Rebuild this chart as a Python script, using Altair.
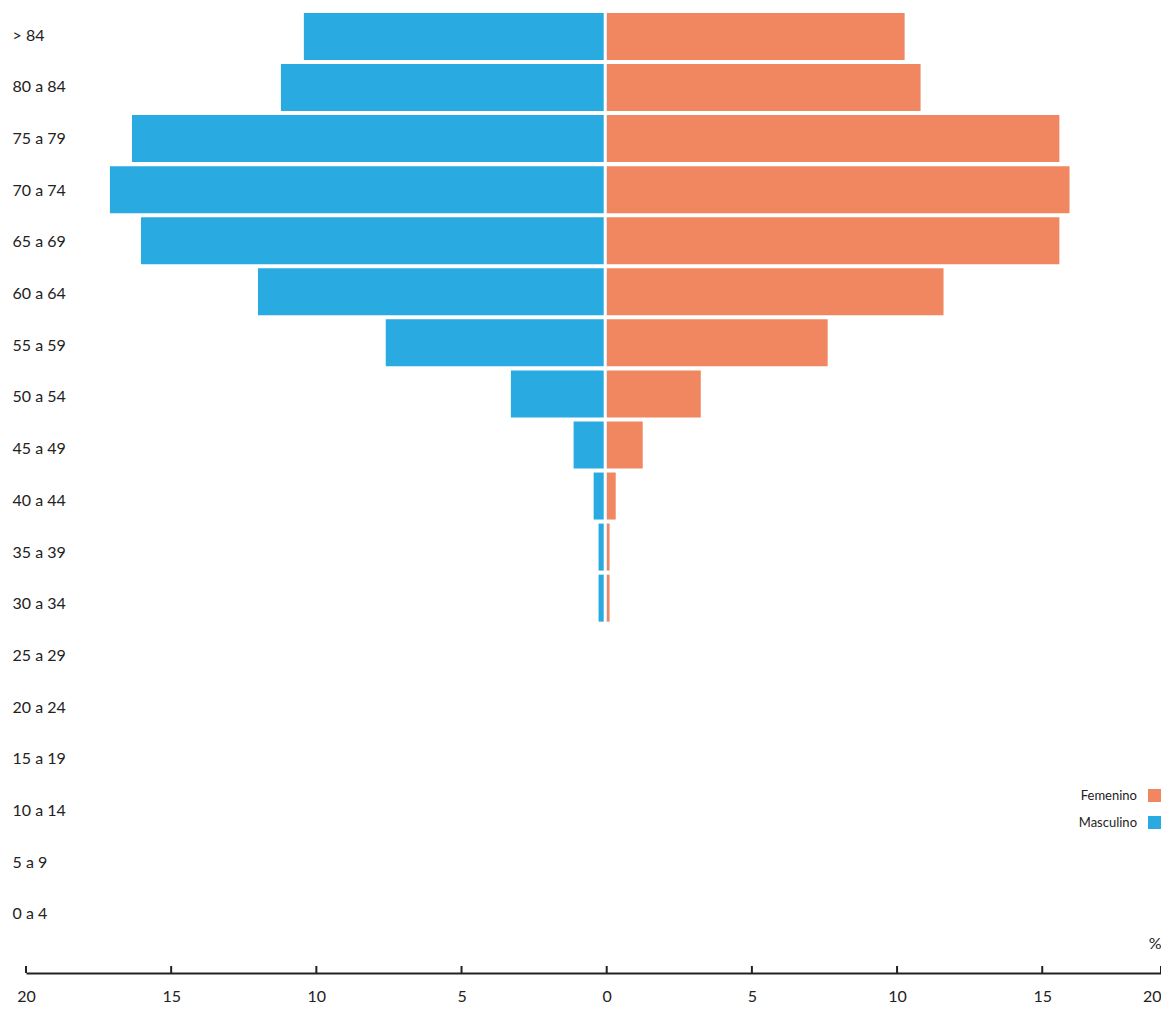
import altair as alt
import pandas as pd

grupos = ["> 84", "80 a 84", "75 a 79", "70 a 74", "65 a 69", "60 a 64",
          "55 a 59", "50 a 54", "45 a 49", "40 a 44", "35 a 39", "30 a 34",
          "25 a 29", "20 a 24", "15 a 19", "10 a 14", "5 a 9", "0 a 4"]
masculino = [10.43, 11.22, 16.35, 17.11, 16.04, 12.01, 7.61, 3.30, 1.14,
             0.45, 0.28, 0.28, 0, 0, 0, 0, 0, 0]
femenino = [10.26, 10.81, 15.59, 15.94, 15.59, 11.60, 7.61, 3.24, 1.24,
            0.31, 0.10, 0.10, 0, 0, 0, 0, 0, 0]
sexos = ["Femenino", "Masculino"]
colores = ["#F08761", "#29AAE1"]
ticks_x = [-20, -15, -10, -5, 0, 5, 10, 15, 19.09]
x_dom = [-20, 19.09]

W, H = 1135, 925
AX_OFF = 40
FONT = "Lato"
TXT = "#222222"

rows = []
for g, m, f in zip(grupos, masculino, femenino):
    rows.append({"grupo": g, "sexo": "Masculino", "valor": -m})
    rows.append({"grupo": g, "sexo": "Femenino", "valor": f})
df = pd.DataFrame(rows)

x_axis = alt.Axis(
    values=ticks_x,
    labelExpr="datum.value > 19 ? '20' : '' + abs(datum.value)",
    labelAlign={"condition": {"test": "datum.value > 19", "value": "right"}, "value": "center"},
    ticks=False, tickSize=0, grid=False,
    domainColor=TXT, domainWidth=2,
    labelFontSize=16, labelColor=TXT, labelPadding=28, labelBaseline="alphabetic",
    labelOverlap=False, labelFlush=False,
    offset=AX_OFF,
    title="%", titleAnchor="end", titleAlign="right", titleBaseline="middle",
    titleX=W, titleY=-30, titleFontSize=16, titleFontWeight="normal", titleColor=TXT,
)

bars = alt.Chart(df).mark_bar().encode(
    y=alt.Y("grupo:N", sort=grupos,
            scale=alt.Scale(paddingInner=0.0794, paddingOuter=0.098), axis=None),
    x=alt.X("valor:Q", scale=alt.Scale(domain=x_dom, nice=False), axis=x_axis),
    color=alt.Color("sexo:N", scale=alt.Scale(domain=sexos, range=colores),
                    legend=alt.Legend(title=None, orient="none", legendX=1122, legendY=781,
                                      direction="vertical", symbolType="square",
                                      symbolSize=169, symbolStrokeWidth=0,
                                      labelAlign="right", labelOffset={"expr": "-24"},
                                      labelFontSize=13, labelColor=TXT,
                                      rowPadding=13, padding=0)),
)

zero_rule = alt.Chart(pd.DataFrame({"valor": [0]})).mark_rule(
    color="white", strokeWidth=3, xOffset=-1.5
).encode(x=alt.X("valor:Q"))

tick_rules = alt.Chart(pd.DataFrame({"valor": ticks_x})).mark_rule(
    color=TXT, strokeWidth=2
).encode(x=alt.X("valor:Q"), y=alt.value(H + AX_OFF - 7), y2=alt.value(H + AX_OFF))

labels = alt.Chart(pd.DataFrame({"grupo": grupos})).mark_point(opacity=0).encode(
    y=alt.Y("grupo:N", sort=grupos, scale=alt.Scale(type="point", padding=0.445),
            axis=alt.Axis(orient="left", title=None, domain=False, ticks=False, tickSize=0,
                          labelAlign="left", labelPadding=14, labelFontSize=16,
                          labelOffset=4, labelColor=TXT))
)

chart = alt.layer(bars, zero_rule, tick_rules, labels).resolve_scale(
    y="independent"
).properties(
    width=W, height=H,
    padding={"left": 18, "top": 0, "right": 0, "bottom": 71},
    autosize=alt.AutoSizeParams(type="none"),
).configure(
    font=FONT, background="white",
    view=alt.ViewConfig(strokeWidth=0),
)

chart.save("out.html", embed_options={"renderer": "svg", "actions": False})
